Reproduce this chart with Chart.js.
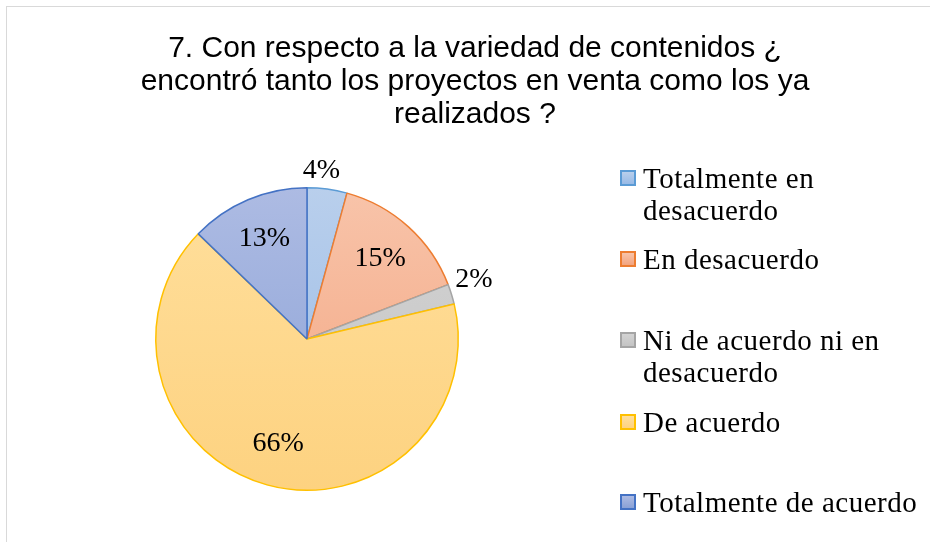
<!DOCTYPE html>
<html>
<head>
<meta charset="utf-8">
<script src="https://cdn.jsdelivr.net/npm/chart.js@4/dist/chart.umd.min.js"></script>
<style>
  html, body { margin: 0; padding: 0; background: #fff; }
  #wrap { position: relative; width: 930px; height: 542px; overflow: hidden; }
  #frame { position: absolute; left: 6px; top: 6px; width: 940px; height: 560px;
           border-top: 1.5px solid #d9d9d9; border-left: 1.5px solid #d9d9d9; }
  #chart { position: absolute; left: 0; top: 0; }
  #title { position: absolute; left: 0; width: 950px; top: 30px; text-align: center;
           font-family: "Liberation Sans", Arial, sans-serif; font-size: 30px; line-height: 33px; color: #000; }
  #legend { position: absolute; left: 620px; top: 162px; width: 310px;
            font-family: "Liberation Serif", "Times New Roman", serif; font-size: 29px; line-height: 32px;
            letter-spacing: 0.5px; color: #000; }
  .item { position: absolute; left: 0; width: 310px; }
  .box { position: absolute; left: 0; top: 8px; width: 12px; height: 12px; border: 2px solid; }
  .txt { position: absolute; left: 23px; width: 287px; }
</style>
</head>
<body>
<div id="wrap">
  <div id="frame"></div>
  <canvas id="chart" width="930" height="542"></canvas>
  <div id="title"></div>
  <div id="legend"></div>
</div>
<script>
// chart data
const titleLines = [
  '7. Con respecto a la variedad de contenidos ¿',
  'encontró tanto los proyectos en venta como los ya',
  'realizados ?'
];
const categories = ['Totalmente en desacuerdo', 'En desacuerdo', 'Ni de acuerdo ni en desacuerdo', 'De acuerdo', 'Totalmente de acuerdo'];
const counts = [2, 7, 1, 31, 6];

// styles
const fillTop = ['#b9cfec', '#f8c4aa', '#d3d3d3', '#ffdf9c', '#adbbe3'];
const fillBottom = ['#98bae6', '#f3a47f', '#c4c4c4', '#fdd280', '#8aa1d6'];
const borderColors = ['#5b9bd5', '#ed7d31', '#a5a5a5', '#ffc000', '#4472c4'];
const legendTops = [0, 81, 162, 244, 324];

const total = counts.reduce((s, v) => s + v, 0);
const pctLabels = counts.map(v => Math.round(v / total * 100) + '%');

document.getElementById('title').innerHTML = titleLines.join('<br>');

document.getElementById('legend').innerHTML = categories.map((c, i) => `
  <div class="item" style="top:${legendTops[i]}px">
    <div class="box" style="border-color:${borderColors[i]};background:linear-gradient(${fillTop[i]},${fillBottom[i]})"></div>
    <div class="txt">${c}</div>
  </div>`).join('');

function sliceFill(ctx) {
  const chart = ctx.chart;
  const area = chart.chartArea;
  if (!area) return fillTop[ctx.dataIndex];
  const g = chart.ctx.createLinearGradient(0, area.top, 0, area.bottom);
  g.addColorStop(0, fillTop[ctx.dataIndex]);
  g.addColorStop(1, fillBottom[ctx.dataIndex]);
  return g;
}

// percentage labels: small slices outside the pie, the rest inside
const labelPlugin = {
  id: 'pctLabels',
  afterDatasetsDraw(chart) {
    const ctx = chart.ctx;
    const meta = chart.getDatasetMeta(0);
    ctx.save();
    ctx.font = '28px "Liberation Serif", "Times New Roman", serif';
    ctx.fillStyle = '#000';
    ctx.textAlign = 'center';
    ctx.textBaseline = 'middle';
    meta.data.forEach((arc, i) => {
      const p = arc.getProps(['x', 'y', 'startAngle', 'endAngle', 'outerRadius'], true);
      const mid = (p.startAngle + p.endAngle) / 2;
      const cos = Math.cos(mid), sin = Math.sin(mid);
      const text = pctLabels[i];
      let x, y;
      if (counts[i] / total < 0.05) {
        const w = ctx.measureText(text).width;
        const d = p.outerRadius + 6;
        x = p.x + cos * d + cos * Math.abs(cos) * w / 2 - (1 - Math.abs(cos)) * 8;
        y = p.y + sin * d + sin * 13 - (1 - Math.abs(sin)) * 12;
      } else {
        const d = p.outerRadius * 0.72;
        x = p.x + cos * d;
        y = p.y + sin * d;
      }
      ctx.fillText(text, x, y);
    });
    ctx.restore();
  }
};

new Chart(document.getElementById('chart'), {
  type: 'pie',
  data: {
    labels: categories,
    datasets: [{
      data: counts,
      backgroundColor: sliceFill,
      borderColor: borderColors,
      borderWidth: 1.5,
    }],
  },
  options: {
    animation: false, responsive: false,
    layout: { padding: { left: 155, right: 471, top: 187, bottom: 51 } },
    plugins: { legend: { display: false }, tooltip: { enabled: false }, title: { display: false } },
  },
  plugins: [labelPlugin],
});
</script>
</body>
</html>
